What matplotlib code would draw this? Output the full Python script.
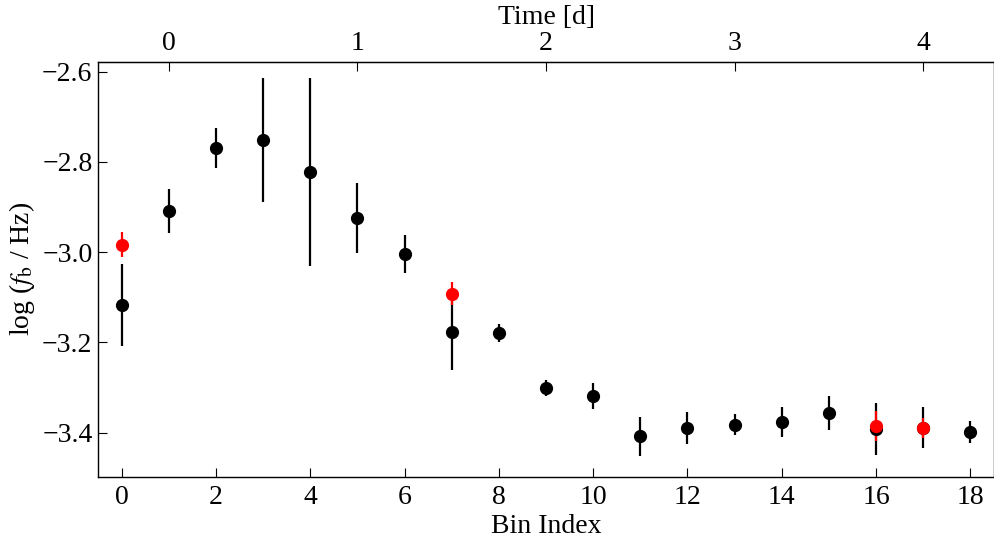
import matplotlib
matplotlib.use("Agg")
import matplotlib.pyplot as plt

# breakpoint frequency per bin (black: full fit, red: alternative fit)
bins = list(range(19))
log_fb = [-3.117, -2.909, -2.769, -2.752, -2.822, -2.924, -3.004, -3.176, -3.179, -3.301,
          -3.319, -3.408, -3.390, -3.382, -3.376, -3.356, -3.392, -3.389, -3.398]
log_fb_err = [0.090, 0.048, 0.044, 0.137, 0.208, 0.077, 0.043, 0.085, 0.019, 0.017,
              0.029, 0.044, 0.035, 0.024, 0.034, 0.037, 0.057, 0.045, 0.025]

red_bins = [0, 7, 16, 17]
red_fb = [-2.983, -3.092, -3.385, -3.389]
red_err = [0.027, 0.025, 0.033, 0.022]

bins_per_day = 4.0
bin_offset = 1.0

plt.rcParams['font.family'] = ['Liberation Serif', 'DejaVu Serif']
plt.rcParams['mathtext.fontset'] = 'stix'
plt.rcParams['font.size'] = 20

fig = plt.figure(figsize=(9.94, 5.41), dpi=100)
ax = fig.add_axes([0.0986, 0.1183, 0.9014, 0.7677])

ax.errorbar(bins, log_fb, yerr=log_fb_err, fmt='o', color='black',
            markersize=8.5, elinewidth=1.6, capsize=0)
ax.errorbar(red_bins, red_fb, yerr=red_err, fmt='o', color='red',
            markersize=8.5, elinewidth=1.6, capsize=0)

ax.set_xlim(-0.5, 18.5)
ax.set_ylim(-3.498, -2.578)
ax.set_xticks(range(0, 19, 2))
ax.set_yticks([-3.4, -3.2, -3.0, -2.8, -2.6])
ax.set_yticklabels(['\u22123.4', '\u22123.2', '\u22123.0', '\u22122.8', '\u22122.6'])
ax.tick_params(direction='in', length=6.5, width=0.8, top=False, right=False, pad=4)
ax.tick_params(axis='x', pad=6)
ax.set_xlabel('Bin Index', labelpad=3)
ax.set_ylabel(r'log ($f_{\mathrm{b}}$ / Hz)', labelpad=4)

top = ax.secondary_xaxis('top', functions=(lambda b: (b - bin_offset) / bins_per_day,
                                           lambda t: t * bins_per_day + bin_offset))
top.set_xticks([0, 1, 2, 3, 4])
top.tick_params(direction='in', length=6.5, width=0.8, pad=4)
top.set_xlabel('Time [d]', labelpad=5)

for s in ax.spines.values():
    s.set_linewidth(1.0)

fig.savefig('out.png', dpi=100)
